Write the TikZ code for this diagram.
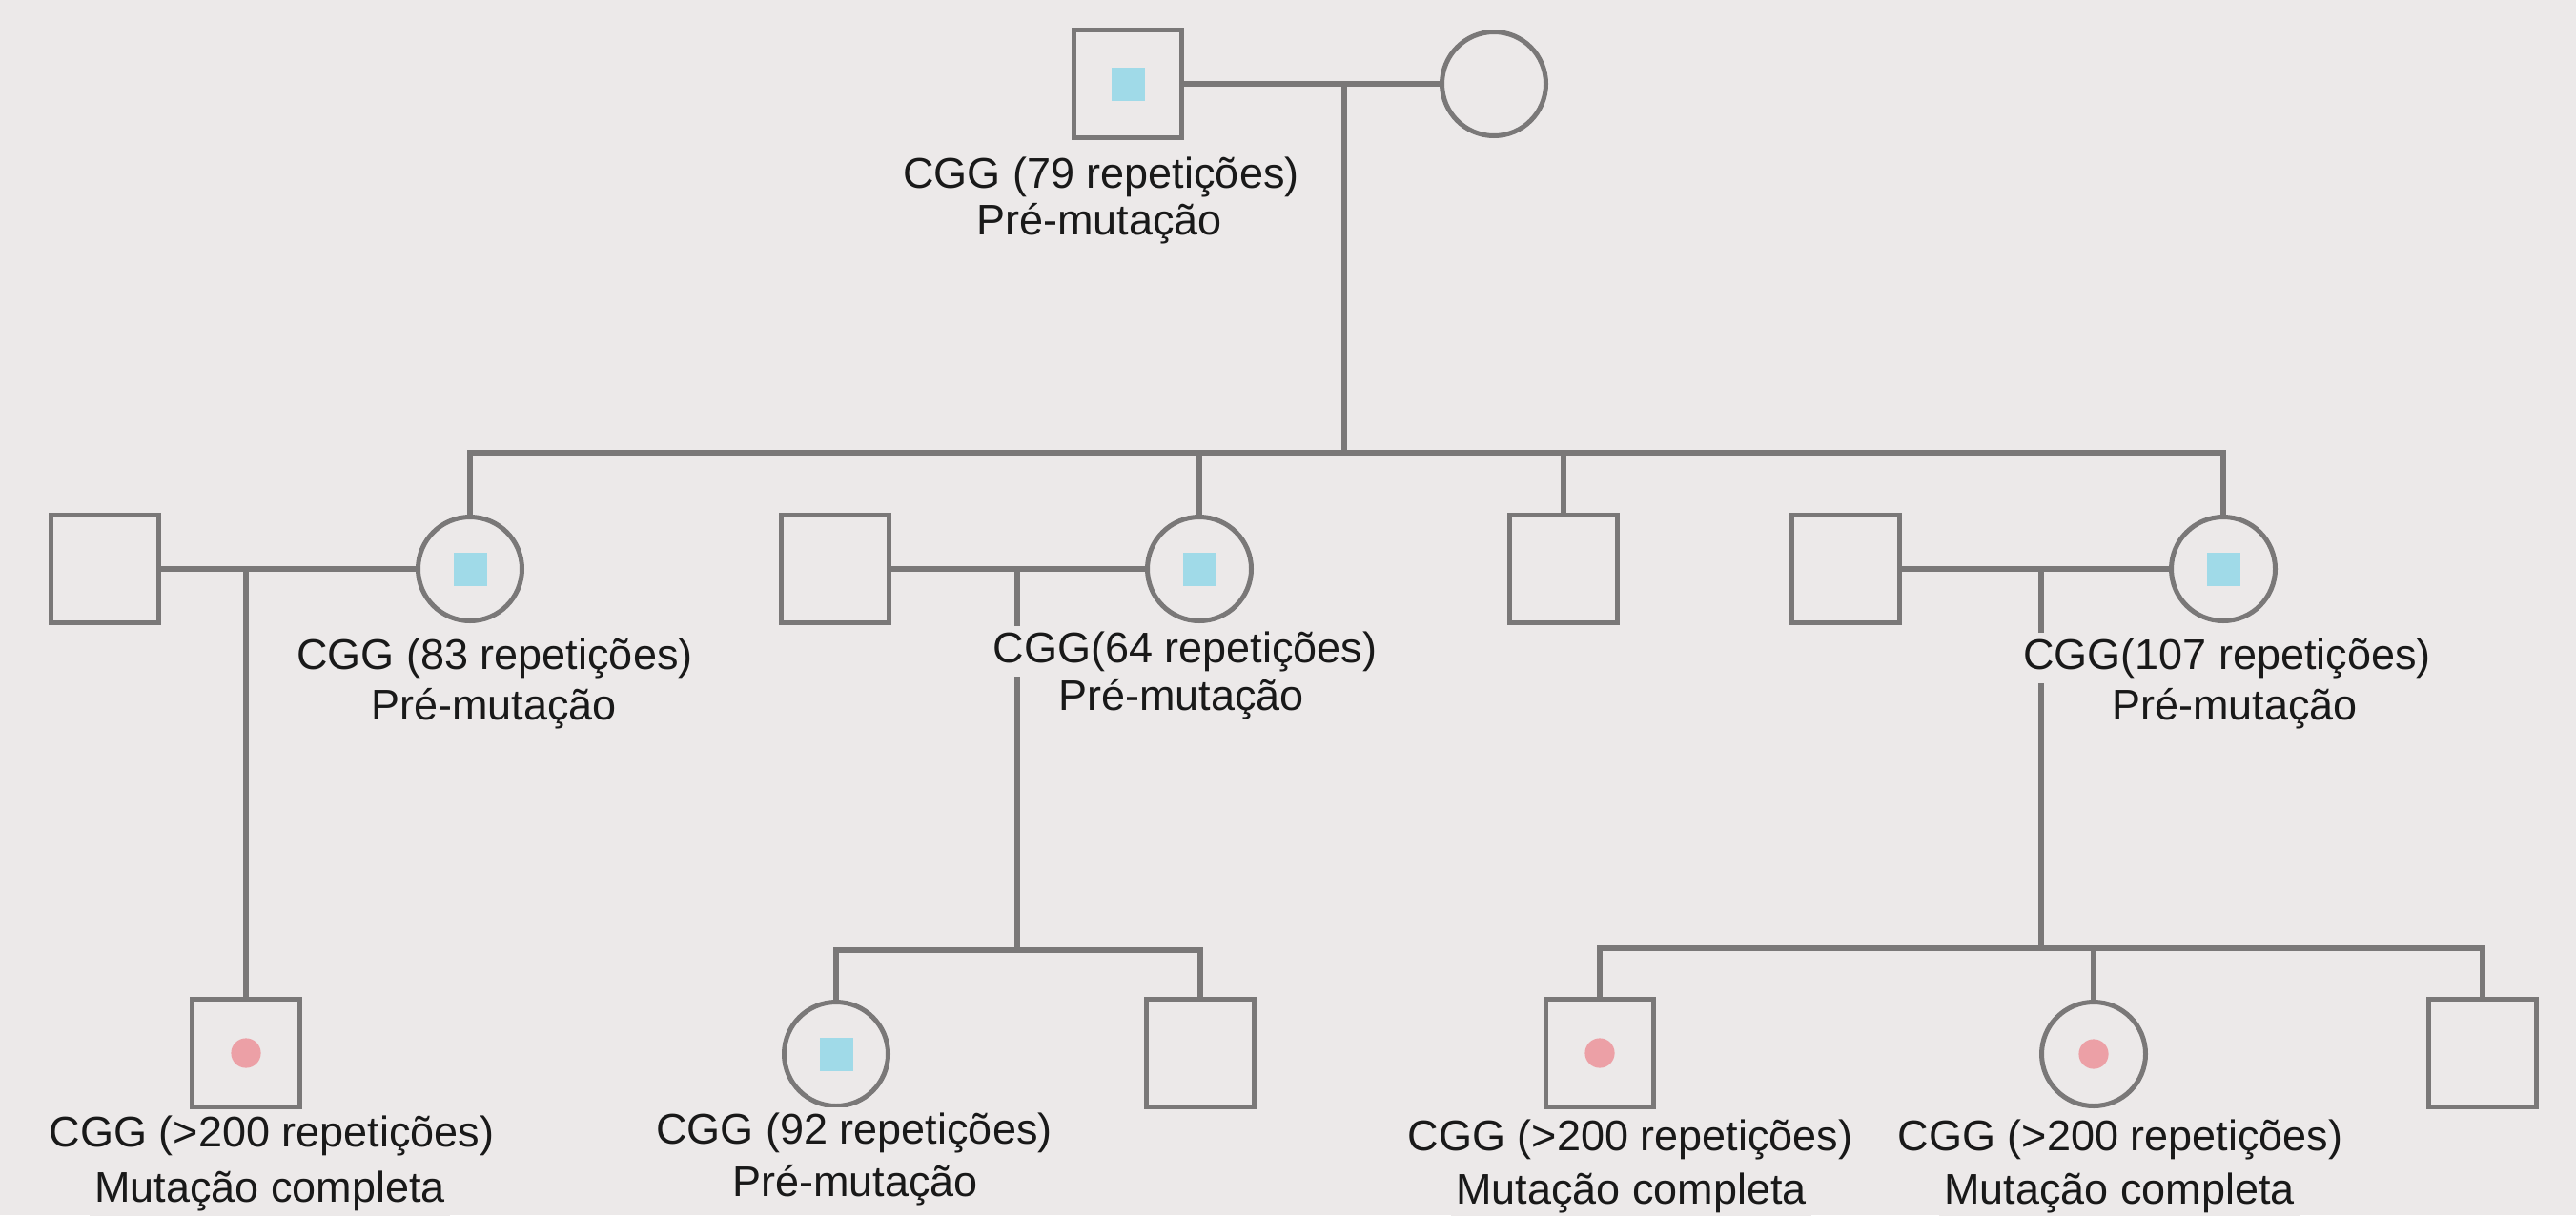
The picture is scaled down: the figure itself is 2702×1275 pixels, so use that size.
\documentclass[tikz,border=0pt]{standalone}
\usepackage{fontspec}
\setmainfont{Liberation Sans}
\definecolor{bg}{RGB}{236,233,233}
\definecolor{linegray}{RGB}{122,120,120}
\definecolor{markblue}{RGB}{160,218,232}
\definecolor{markpink}{RGB}{236,160,166}
\definecolor{txt}{RGB}{25,25,25}
\begin{document}
\begin{tikzpicture}[x=0.5pt,y=-0.5pt,
  male/.style={draw=linegray,line width=2.5pt,rectangle,minimum size=56.5pt,inner sep=0pt},
  female/.style={draw=linegray,line width=2.5pt,circle,minimum size=54.5pt,inner sep=0pt},
  carrier/.style={path picture={\fill[markblue] ([xshift=-8.75pt,yshift=-8.75pt]path picture bounding box.center) rectangle ++(17.5pt,17.5pt);}},
  affected/.style={path picture={\fill[markpink] (path picture bounding box.center) circle[radius=7.8pt];}},
  link/.style={draw=linegray,line width=2.8pt},
  lbl/.style={anchor=base,fill=bg,inner sep=2.5pt,text=txt,font=\fontsize{22.5pt}{26pt}\selectfont}]
\useasboundingbox (0,0) rectangle (2702,1275);
\fill[bg] (0,0) rectangle (2702,1275);
% generation I
\node[male,carrier] (F0) at (1183,88) {};
\node[female] (M0) at (1567,88) {};
% generation II
\node[male] (S1) at (110,597) {};
\node[female,carrier] (C1) at (493,597) {};
\node[male] (S2) at (876,597) {};
\node[female,carrier] (C2) at (1258,597) {};
\node[male] (S3) at (1640,597) {};
\node[male] (S4) at (1936,597) {};
\node[female,carrier] (C4) at (2332,597) {};
% generation III
\node[male,affected] (B1) at (258,1105) {};
\node[female,carrier] (B2) at (877,1106) {};
\node[male] (B3) at (1259,1105) {};
\node[male,affected] (B4) at (1678,1105) {};
\node[female,affected] (B5) at (2196,1106) {};
\node[male] (B6) at (2604,1105) {};
% coordinates
\coordinate (m0) at (1410,88);
\coordinate (sib0) at (1410,475);
\coordinate (m1) at (258,597);
\coordinate (m2) at (1067,597);
\coordinate (sib2) at (1067,997);
\coordinate (m4) at (2141,597);
\coordinate (sib4) at (2141,995);
% connectors
\draw[link] (F0.east) -- (M0.west);
\draw[link] (m0) -- (sib0);
\draw[link] (C1.north) -- (C1.north |- sib0) -- (C4.north |- sib0) -- (C4.north);
\draw[link] (C2.north) -- (C2.north |- sib0);
\draw[link] (S3.north) -- (S3.north |- sib0);
\draw[link] (S1.east) -- (C1.west);
\draw[link] (S2.east) -- (C2.west);
\draw[link] (S4.east) -- (C4.west);
\draw[link] (m1) -- (B1.north);
\draw[link] (m2) -- (sib2);
\draw[link] (B2.north) -- (B2.north |- sib2) -- (B3.north |- sib2) -- (B3.north);
\draw[link] (m4) -- (sib4);
\draw[link] (B4.north) -- (B4.north |- sib4) -- (B6.north |- sib4) -- (B6.north);
\draw[link] (B5.north) -- (B5.north |- sib4);
% labels
\node[lbl] (tF0a) at (1155,197) {CGG (79 repetições)};
\node[lbl] (tF0b) at (1153,246) {Pré-mutação};
\node[lbl] (tC1a) at (519,702) {CGG (83 repetições)};
\node[lbl] (tC1b) at (518,755) {Pré-mutação};
\node[lbl] (tC2a) at (1243,695) {CGG(64 repetições)};
\node[lbl] (tC2b) at (1239,745) {Pré-mutação};
\node[lbl] (tC4a) at (2336,702) {CGG(107 repetições)};
\node[lbl] (tC4b) at (2344,755) {Pré-mutação};
\node[lbl] (tB1a) at (285,1203) {CGG (>200 repetições)};
\node[lbl] (tB1b) at (283,1261) {Mutação completa};
\node[lbl] (tB2a) at (896,1200) {CGG (92 repetições)};
\node[lbl] (tB2b) at (897,1255) {Pré-mutação};
\node[lbl] (tB4a) at (1710,1207) {CGG (>200 repetições)};
\node[lbl] (tB4b) at (1711,1263) {Mutação completa};
\node[lbl] (tB5a) at (2224,1207) {CGG (>200 repetições)};
\node[lbl] (tB5b) at (2223,1263) {Mutação completa};
\end{tikzpicture}
\end{document}
